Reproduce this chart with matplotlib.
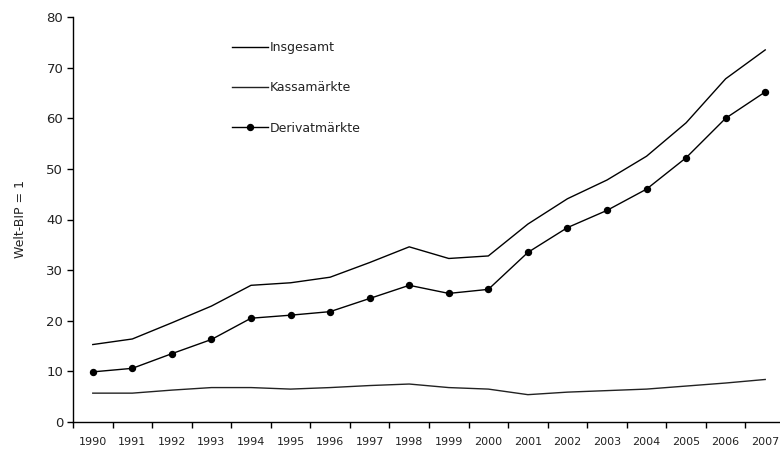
import matplotlib
matplotlib.use("Agg")
import matplotlib.pyplot as plt

years = [str(y) for y in range(1990, 2008)]
insgesamt = [15.3, 16.4, 19.6, 22.9, 27.0, 27.5, 28.6, 31.5, 34.6, 32.3, 32.8,
             39.1, 44.1, 47.8, 52.5, 59.1, 67.8, 73.5]
kassamaerkte = [5.7, 5.7, 6.3, 6.8, 6.8, 6.5, 6.8, 7.2, 7.5, 6.8, 6.5,
                5.4, 5.9, 6.2, 6.5, 7.1, 7.7, 8.4]
derivatmaerkte = [9.9, 10.6, 13.5, 16.3, 20.5, 21.1, 21.8, 24.4, 27.0, 25.4, 26.2,
                  33.5, 38.4, 41.8, 46.0, 52.2, 60.0, 65.2]
y_ticks = [0, 10, 20, 30, 40, 50, 60, 70, 80]
y_label = "Welt-BIP = 1"

plt.rcParams['font.family'] = ['DejaVu Sans']
txt = '#222222'

fig = plt.figure(figsize=(7.8, 4.54), dpi=100)
W, H = 780, 454
ax = fig.add_axes([73 / W, 1 - 422 / H, (785 - 73) / W, (422 - 17) / H])

x = list(range(len(years)))
ax.plot(x, insgesamt, color='black', lw=1.0, label='Insgesamt')
ax.plot(x, kassamaerkte, color='#222222', lw=1.0, label='Kassamärkte')
ax.plot(x, derivatmaerkte, color='black', lw=1.0, marker='o', markersize=4.3,
        label='Derivatmärkte')

ax.set_xlim(-0.5, len(years) - 0.5)
ax.set_ylim(0, 80)
ax.set_yticks(y_ticks)
ax.set_yticklabels([str(t) for t in y_ticks], fontsize=9.5, color=txt)
ax.set_xticks([i - 0.5 for i in range(len(years) + 1)])
ax.set_xticklabels([])
ax.set_xticks(x, minor=True)
ax.set_xticklabels(years, minor=True, fontsize=8, color=txt)
ax.tick_params(axis='x', which='minor', length=0, pad=11)
ax.tick_params(axis='x', which='major', length=4, direction='out', width=1)
ax.tick_params(axis='y', length=4, direction='out', width=1, pad=3)
for s in ['top', 'right']:
    ax.spines[s].set_visible(False)
for s in ['left', 'bottom']:
    ax.spines[s].set_linewidth(1.0)
ax.set_ylabel(y_label, fontsize=9, labelpad=14, color=txt)

leg = ax.legend(loc='upper left', bbox_to_anchor=(232 / W, 1 - 41 / H),
                bbox_transform=fig.transFigure, frameon=False, fontsize=9,
                handlelength=2.9, handletextpad=0.15, labelspacing=2.19,
                borderpad=0, borderaxespad=0)
for t in leg.get_texts():
    t.set_color(txt)

fig.savefig("out.png", dpi=100)
